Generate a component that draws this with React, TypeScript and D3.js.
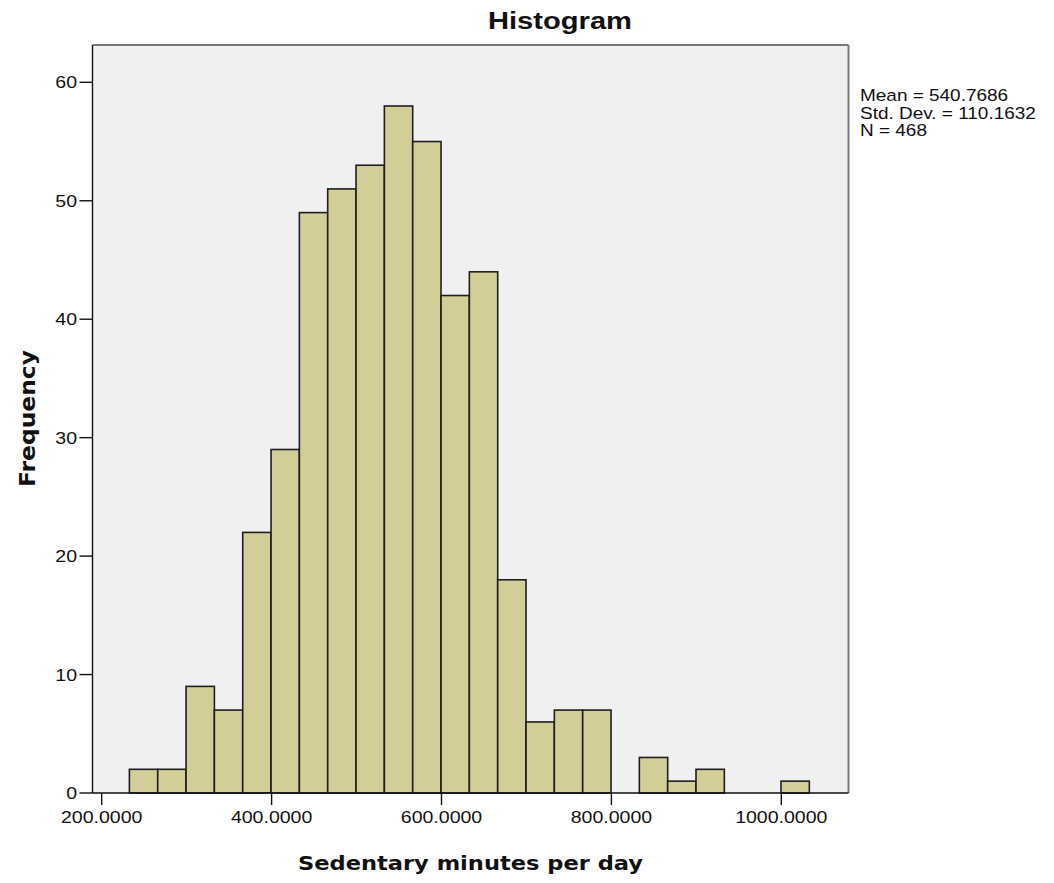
import * as d3 from 'd3';

// histogram of sedentary minutes per day (bin counts)
const binStart = 232.6;
const binWidth = 33.35;
const binCounts = [2, 2, 9, 7, 22, 29, 49, 51, 53, 58, 55, 42, 44, 18, 6, 7, 7, 0, 3, 1, 2, 0, 0, 1];
const xTicks = [200, 400, 600, 800, 1000];
const yTicks = [0, 10, 20, 30, 40, 50, 60];
const statLines = ['Mean = 540.7686', 'Std. Dev. = 110.1632', 'N = 468'];

const W = 1054;
const H = 883;
const plot = { left: 92.5, right: 848.5, top: 45, bottom: 793 };
const sx = 1.15; // the reference glyphs are a bit wide

const App = () => {
  const x = d3.scaleLinear().domain([200, 1000]).range([101.7, 781.3]);
  const y = d3.scaleLinear().domain([0, 63.15]).range([plot.bottom, plot.top]);

  const bins = binCounts.map((count, i) => ({
    x0: binStart + i * binWidth,
    x1: binStart + (i + 1) * binWidth,
    count,
  }));

  return (
    <svg
      width={W}
      height={H}
      style={{ position: 'absolute', left: 0, top: 0, background: '#fff' }}
    >
      <rect
        x={plot.left}
        y={plot.top}
        width={plot.right - plot.left}
        height={plot.bottom - plot.top}
        fill="#f0f0f0"
      />

      {/* bars */}
      {bins
        .filter((b) => b.count > 0)
        .map((b, i) => (
          <rect
            key={i}
            x={x(b.x0)}
            y={y(b.count)}
            width={x(b.x1) - x(b.x0)}
            height={y(0) - y(b.count)}
            fill="#d3ce97"
            stroke="#1e1e1e"
            strokeWidth={1.6}
          />
        ))}

      {/* frame */}
      <line x1={plot.left} x2={plot.right} y1={plot.top} y2={plot.top} stroke="#7a7a7a" strokeWidth={2} />
      <line x1={plot.right} x2={plot.right} y1={plot.top} y2={plot.bottom} stroke="#7a7a7a" strokeWidth={2} />
      <line x1={plot.left} x2={plot.left} y1={plot.top} y2={plot.bottom} stroke="#111" strokeWidth={1.4} />
      <line x1={plot.left} x2={plot.right} y1={plot.bottom} y2={plot.bottom} stroke="#111" strokeWidth={1.4} />

      {/* y axis */}
      {yTicks.map((t) => (
        <g key={t} transform={`translate(0,${y(t)})`}>
          <line x1={79.5} x2={plot.left} stroke="#111" strokeWidth={1.4} />
          <g transform={`translate(77,6) scale(${sx},1)`}>
            <text textAnchor="end" fontFamily="Liberation Sans, Arial, sans-serif" fontSize={17} fill="#111">
              {t}
            </text>
          </g>
        </g>
      ))}

      {/* x axis */}
      {xTicks.map((t) => (
        <g key={t} transform={`translate(${x(t)},0)`}>
          <line y1={plot.bottom} y2={plot.bottom + 12} stroke="#111" strokeWidth={1.4} />
          <g transform={`translate(0,823) scale(${sx},1)`}>
            <text textAnchor="middle" fontFamily="Liberation Sans, Arial, sans-serif" fontSize={17} fill="#111">
              {d3.format('.4f')(t)}
            </text>
          </g>
        </g>
      ))}

      {/* titles */}
      <text
        x={560}
        y={28.5}
        textAnchor="middle"
        fontFamily="Liberation Sans, Arial, sans-serif"
        fontWeight="bold"
        fontSize={23}
        textLength={144}
        lengthAdjust="spacingAndGlyphs"
        fill="#111"
      >
        Histogram
      </text>
      <text
        x={470.5}
        y={869.5}
        textAnchor="middle"
        fontFamily="DejaVu Sans, sans-serif"
        fontWeight="bold"
        fontSize={19}
        textLength={345}
        lengthAdjust="spacingAndGlyphs"
        fill="#111"
      >
        Sedentary minutes per day
      </text>
      <text
        transform="translate(35,418.5) rotate(-90)"
        textAnchor="middle"
        fontFamily="DejaVu Sans, sans-serif"
        fontWeight="bold"
        fontSize={21}
        textLength={137}
        lengthAdjust="spacingAndGlyphs"
        fill="#111"
      >
        Frequency
      </text>

      {/* summary stats */}
      {statLines.map((s, i) => (
        <g key={s} transform={`translate(860,${101 + i * 17.5}) scale(${sx},1)`}>
          <text fontFamily="Liberation Sans, Arial, sans-serif" fontSize={16.5} fill="#111">
            {s}
          </text>
        </g>
      ))}
    </svg>
  );
};

export default App;
